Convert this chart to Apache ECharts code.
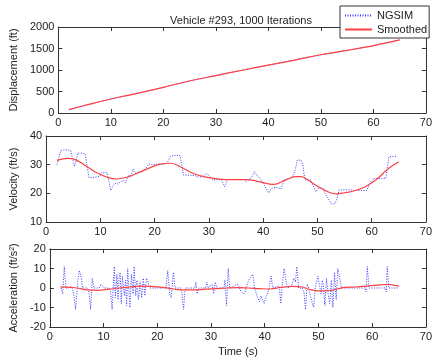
<!DOCTYPE html>
<html>
<head>
<meta charset="utf-8">
<script src="https://cdn.jsdelivr.net/npm/echarts@6/dist/echarts.min.js"></script>
<style>
  html, body { margin: 0; padding: 0; background: #fff; }
  #chart { width: 435px; height: 358px; }
</style>
</head>
<body>
<div id="chart"></div>
<script>
// Vehicle #293 trajectory: raw NGSIM samples vs. smoothed estimate

// Tick labels
const timeTicks = [0, 10, 20, 30, 40, 50, 60, 70];
const dispTicks = [0, 500, 1000, 1500, 2000];
const velTicks = [10, 20, 30, 40];
const accTicks = [-20, -10, 0, 10, 20];

// Displacement (ft)
const dispTime = [2, 5, 10, 15, 20, 25, 30, 35, 40, 45, 50, 55, 60, 65];
const dispNgsim = [78, 176, 327, 456, 596, 746, 871, 996, 1116, 1231, 1356, 1456, 1566, 1700];
const dispSmooth = [80, 175, 326, 455, 595, 745, 870, 995, 1115, 1230, 1355, 1455, 1565, 1699];

// Velocity (ft/s), raw
const velNgsimTime = [2.0, 2.3, 2.7, 3.5, 4.5, 4.9, 5.2, 5.5, 5.8, 6.5, 7.2, 7.5, 7.9, 8.5, 9.5, 9.9, 10.2, 11.2, 11.6, 11.9,
  12.3, 12.7, 13.2, 13.7, 14.3, 14.6, 15.2, 15.6, 16.0, 16.4, 17.0, 17.7, 18.2, 18.6, 18.9, 19.5, 20.5, 21.5, 22.3, 22.6,
  22.9, 23.5, 24.7, 25.0, 25.3, 26.5, 27.4, 28.0, 28.7, 29.6, 30.2, 30.8, 32.3, 32.9, 33.5, 35.0, 36.6, 36.9, 37.4, 38.0,
  38.4, 39.0, 39.6, 40.2, 41.0, 41.4, 41.8, 42.7, 43.3, 43.9, 44.8, 45.4, 45.9, 46.3, 47.0, 47.3, 47.7, 48.8, 49.4, 49.7,
  50.4, 51.0, 51.4, 52.0, 52.6, 53.2, 53.6, 54.0, 55.0, 56.0, 57.0, 58.0, 59.1, 59.8, 60.4, 61.5, 62.6, 62.9, 63.2, 64.0, 64.6];
const velNgsim = [30, 30.5, 35, 35.2, 35, 32, 29.5, 31, 34, 34, 33.8, 30, 25.5, 25.5, 25.8, 26, 27.2, 27.2, 24, 21,
  22.5, 23.5, 23.3, 24, 24.5, 23.6, 26.3, 25.7, 28.5, 27, 27.5, 27.8, 28.3, 29.3, 30.3, 30, 30.2, 30.2, 30.5, 31,
  32.8, 33.2, 33.2, 30, 26.4, 26.3, 26.2, 25.7, 25.8, 26.9, 25.8, 24.7, 24.8, 22.3, 24.8, 24.8, 24.8, 24, 24.8, 26,
  27.6, 26, 24.7, 23, 20.1, 21.5, 22, 22, 21.5, 24.7, 25.2, 25.8, 28, 31.6, 31.6, 30, 24.7, 24.7, 21.7, 20.6,
  22, 21.8, 20, 18.3, 16.3, 16.4, 18, 21.2, 21.2, 21.2, 21, 21, 21, 24, 25.2, 25.2, 25.2, 29, 32.8, 32.9, 32.8];

// Velocity (ft/s), smoothed
const velSmoothTime = [2, 4, 5, 7, 9, 11, 13, 15, 17, 19, 21, 23, 25, 27, 29, 31, 33, 35, 37, 39,
  41, 42, 44, 46, 47, 48, 50, 52, 53.5, 55, 57, 59, 61, 63, 65];
const velSmooth = [31.5, 32.2, 32, 30, 27.5, 25.8, 25, 25.7, 27.2, 28.8, 30.2, 30.5, 29, 27, 25.8, 25.2, 24.8, 24.8, 24.8, 24.2,
  23.3, 23.1, 24.5, 25.8, 25.8, 25, 22.5, 20.5, 19.8, 20.2, 21, 22.5, 25, 28.5, 31];

// Acceleration (ft/s^2), raw
const accNgsimTime = [2.1, 2.4, 2.7, 3.0, 3.5, 4.0, 4.4, 4.8, 5.2, 5.5, 5.8, 6.1, 7.0, 7.3, 7.6, 7.9, 8.2, 9.2, 9.5, 9.8,
  10.1, 11.0, 11.3, 11.6, 12.0, 12.2, 12.5, 12.7, 12.9, 13.1, 13.3, 13.5, 13.9, 14.1, 14.3, 14.5, 14.8, 14.9, 15.2, 15.5,
  15.7, 16.0, 16.2, 16.5, 16.8, 17.1, 17.4, 17.7, 18.0, 18.3, 18.6, 21.6, 21.95, 22.3, 22.6, 23.0, 23.3, 24.5, 24.9, 25.2,
  27.0, 27.2, 27.4, 27.7, 29.0, 29.2, 29.5, 30.2, 30.5, 30.8, 31.1, 32.4, 32.6, 32.9, 33.2, 33.5, 35.0, 35.6, 36.2, 36.5,
  36.9, 37.2, 37.5, 37.8, 38.1, 38.7, 39.0, 39.3, 39.6, 39.9, 40.2, 40.5, 40.8, 41.2, 41.5, 42.7, 43.0, 43.3, 43.6, 43.8,
  44.2, 45.0, 45.4, 45.7, 46.0, 46.3, 47.0, 47.3, 47.6, 47.9, 48.2, 48.5, 48.8, 49.1, 49.4, 49.9, 50.1, 50.5, 50.7, 50.9,
  51.2, 51.5, 51.8, 52.1, 52.4, 52.7, 53.0, 53.3, 53.6, 53.95, 54.3, 58.8, 58.85, 59.1, 59.4, 62.5, 62.6, 62.8, 63.1, 64.8];
const accNgsim = [0, -3, 11, 0, 0, 1, -2, -11, 3, 9, 6, 0, 0, -2, -11, 5, 0, 0, 2, 3,
  0, 0, -2, -11, 11, -5, 7, -6, 5, 8, -8, 6, -4, 4, -9, 10, 10, -10, 7, -3,
  11, -4, 4, -6, 3, -5, 5, -4, 5, 3, 0, 0, 9, -3, -5, 8, 0, 0, -11, 0,
  0, 3, -3, 0, 0, 3, 0, 2, -3, 3, 0, 0, 4, -9, 10, 0, 2, -2, -3, -4,
  3, 5, 4, 7, 0, -5, -7, -4, -6, -8, -5, -3, 0, 6, 0, 1, -8, 2, 10, 11,
  0, 1, 5, 3, 11, 0, 0, -2, -11, 2, 0, -4, -5, -10, 0, 6, 5, -3, 4, 2,
  -9, 5, -3, -8, 4, -10, 8, -6, 10, 11, 0, 0, -2, 11, 0, 0, -2, 11, 0, 0];

// Acceleration (ft/s^2), smoothed
const accSmoothTime = [2, 3, 5, 7, 9, 11, 13, 15, 17, 19, 21, 23, 25, 27, 29, 31, 33, 35, 37, 39,
  41, 43, 45, 47, 48, 50, 52, 53.5, 55, 57, 59, 61, 63, 64, 65];
const accSmooth = [0.5, 0.5, 0, -1, -1.2, -0.6, 0, 0.5, 1, 0.8, 0.3, -0.5, -1, -1, -0.6, -0.3, 0, 0.2, 0, -0.3,
  -0.5, 0.3, 0.8, 0.5, -0.5, -1.5, -1.4, -0.5, 0.3, 0.5, 1, 1.5, 1.8, 1.5, 1];

const zip = (xs, ys) => xs.map((x, i) => [x, ys[i]]);

const FONT = 'Liberation Sans, Arial, sans-serif';
const TEXT = '#222';
const LINE = '#333';
const BLUE = '#3b3bff';
const RED = '#ff4040';

const grids = [
  { left: 45, right: 7, top: 27, height: 86 },
  { left: 45, right: 7, top: 136, height: 86 },
  { left: 45, right: 7, top: 249, height: 85 }
];

const plainNumber = v => String(v);

function bottomX(gi, showName) {
  return {
    type: 'value', gridIndex: gi, position: 'bottom',
    min: timeTicks[0], max: timeTicks[timeTicks.length - 1], interval: 10,
    axisLine: { show: true, onZero: false, lineStyle: { color: LINE, width: 1 } },
    axisTick: { show: true, inside: true, length: 4, lineStyle: { color: LINE } },
    axisLabel: { show: true, color: TEXT, fontSize: 11, fontFamily: FONT, margin: 4, formatter: plainNumber },
    splitLine: { show: false },
    name: showName ? 'Time (s)' : '', nameLocation: 'middle', nameGap: 19,
    nameTextStyle: { color: TEXT, fontSize: 11, fontFamily: FONT }
  };
}
function topX(gi) {
  return {
    type: 'value', gridIndex: gi, position: 'top',
    min: timeTicks[0], max: timeTicks[timeTicks.length - 1], interval: 10,
    axisLine: { show: true, onZero: false, lineStyle: { color: LINE, width: 1 } },
    axisTick: { show: true, inside: true, length: 4, lineStyle: { color: LINE } },
    axisLabel: { show: false }, splitLine: { show: false }
  };
}
function leftY(gi, ticks, name, gap) {
  return {
    type: 'value', gridIndex: gi, position: 'left',
    min: ticks[0], max: ticks[ticks.length - 1], interval: ticks[1] - ticks[0],
    axisLine: { show: true, onZero: false, lineStyle: { color: LINE, width: 1 } },
    axisTick: { show: true, inside: true, length: 4, lineStyle: { color: LINE } },
    axisLabel: { show: true, color: TEXT, fontSize: 11, fontFamily: FONT, margin: 4, formatter: plainNumber },
    splitLine: { show: false },
    name: name, nameLocation: 'middle', nameGap: gap,
    nameTextStyle: { color: TEXT, fontSize: 11, fontFamily: FONT }
  };
}
function rightY(gi, ticks) {
  return {
    type: 'value', gridIndex: gi, position: 'right',
    min: ticks[0], max: ticks[ticks.length - 1], interval: ticks[1] - ticks[0],
    axisLine: { show: true, onZero: false, lineStyle: { color: LINE, width: 1 } },
    axisTick: { show: true, inside: true, length: 4, lineStyle: { color: LINE } },
    axisLabel: { show: false }, splitLine: { show: false }
  };
}

function rawSeries(gi, data) {
  return {
    name: 'NGSIM', type: 'line', xAxisIndex: gi, yAxisIndex: gi, data: data,
    symbol: 'none', smooth: false, z: 2, animation: false,
    lineStyle: { color: BLUE, width: 1, type: [1, 1.5] },
    itemStyle: { color: BLUE }
  };
}
function smoothSeries(gi, data) {
  return {
    name: 'Smoothed', type: 'line', xAxisIndex: gi, yAxisIndex: gi, data: data,
    symbol: 'none', smooth: 0.4, z: 3, animation: false,
    lineStyle: { color: RED, width: 1.2, type: 'solid' },
    itemStyle: { color: RED }
  };
}

const chart = echarts.init(document.getElementById('chart'), null, { renderer: 'canvas' });
chart.setOption({
  backgroundColor: '#fff',
  animation: false,
  title: {
    text: 'Vehicle #293, 1000 Iterations', left: 236, top: 10, textAlign: 'center',
    textStyle: { color: TEXT, fontSize: 11, fontWeight: 'normal', fontFamily: FONT }
  },
  legend: {
    data: ['NGSIM', 'Smoothed'], orient: 'vertical', left: 340, top: 6,
    padding: [4, 2, 3, 4], itemGap: 3, itemWidth: 27, itemHeight: 10,
    backgroundColor: '#fff', borderColor: '#333', borderWidth: 1, borderRadius: 0,
    itemStyle: { opacity: 0 },
    textStyle: { color: TEXT, fontSize: 11, fontFamily: FONT }, z: 10
  },
  grid: grids,
  xAxis: [bottomX(0, false), bottomX(1, false), bottomX(2, true), topX(0), topX(1), topX(2)],
  yAxis: [
    leftY(0, dispTicks, 'Displacement (ft)', 30),
    leftY(1, velTicks, 'Velocity (ft/s)', 25),
    leftY(2, accTicks, 'Acceleration (ft/s²)', 27),
    rightY(0, dispTicks), rightY(1, velTicks), rightY(2, accTicks)
  ],
  series: [
    rawSeries(0, zip(dispTime, dispNgsim)),
    smoothSeries(0, zip(dispTime, dispSmooth)),
    rawSeries(1, zip(velNgsimTime, velNgsim)),
    smoothSeries(1, zip(velSmoothTime, velSmooth)),
    rawSeries(2, zip(accNgsimTime, accNgsim)),
    smoothSeries(2, zip(accSmoothTime, accSmooth))
  ]
});
</script>
</body>
</html>
